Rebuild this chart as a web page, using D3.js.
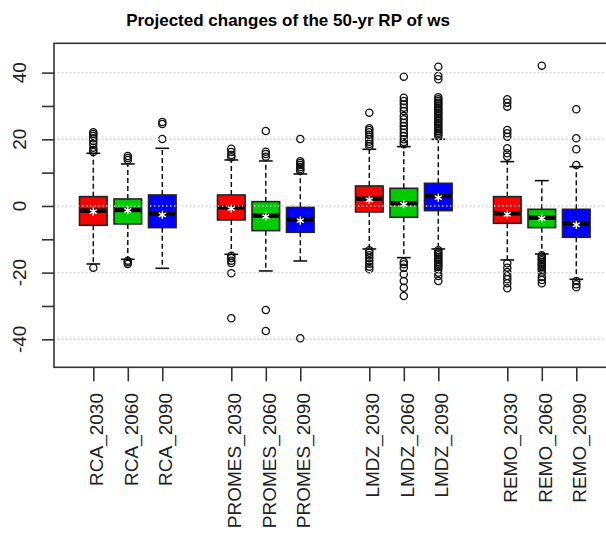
<!DOCTYPE html>
<html>
<head>
<meta charset="utf-8">
<script src="https://cdn.jsdelivr.net/npm/d3@7"></script>
<style>
    body { margin: 0; background: #fff; }
    svg { display: block; font-family: "Liberation Sans", Arial, sans-serif; }
</style>
</head>
<body>
<div id="app"></div>
<script>
// ----- Data -----

const models = ["RCA", "PROMES", "LMDZ", "REMO"];
const years = ["2030", "2060", "2090"];
const boxColors = ["#ff0000", "#00cd00", "#0000ff"];

// one value per box, order: RCA 2030/2060/2090, PROMES ..., LMDZ ..., REMO ...
const lowWhisker = [-17.4, -16.0, -18.7, -14.5, -19.5, -16.5, -12.9, -15.5, -12.9, -16.2, -14.4, -22.0];
const q1 = [-5.8, -5.4, -6.5, -4.2, -7.4, -7.9, -1.8, -3.4, -1.4, -5.2, -6.5, -9.4];
const medians = [-1.4, -1.2, -2.2, -0.4, -2.9, -4.0, 2.2, 0.8, 3.0, -2.2, -3.5, -5.2];
const q3 = [2.8, 2.1, 3.3, 3.3, 1.3, -0.4, 6.0, 5.3, 6.8, 2.8, -1.0, -1.0];
const highWhisker = [15.8, 12.6, 17.3, 13.8, 13.5, 9.6, 17.0, 17.8, 20.0, 13.3, 7.6, 11.8];
const means = [-1.7, -1.3, -2.7, -0.8, -3.2, -4.4, 1.8, 0.5, 2.5, -2.5, -3.7, -5.7];

const outliers = [
    [16.2, 16.8, 17.5, 18.6, 19.5, 20.3, 21.0, 21.6, 22.1, -18.5],
    [13.8, 14.4, 15.0, -16.4, -16.9, -17.4],
    [20.1, 24.6, 25.2],
    [14.6, 15.3, 16.2, 17.2, -14.9, -15.6, -16.4, -17.1, -20.2, -33.7],
    [14.8, 15.6, 16.3, 22.5, -31.2, -37.5],
    [10.5, 11.1, 11.7, 12.3, 12.9, 13.4, 20.1, -39.7],
    [17.9, 18.6, 19.3, 20.0, 20.7, 21.4, 22.1, 22.8, 23.3, 28.0,
     -13.3, -14.0, -14.8, -15.6, -16.5, -17.3, -18.2, -19.0],
    [18.5, 19.2, 20.0, 21.0, 22.0, 23.0, 24.0, 25.0, 26.0, 27.0, 28.5, 29.5, 30.5, 31.5, 32.5, 38.8,
     -16.8, -17.5, -18.5, -20.5, -22.5, -24.5, -27.0],
    [21.0, 21.5, 22.0, 22.5, 23.0, 23.5, 24.0, 24.5, 25.0, 25.5, 26.0, 26.5, 27.0, 27.5,
     28.0, 28.5, 29.0, 29.5, 30.0, 30.5, 31.0, 31.5, 32.0, 32.6, 38.0, 39.0, 41.8,
     -13.3, -13.8, -14.3, -14.8, -15.3, -15.8, -16.3, -16.8, -17.3, -17.8, -18.3, -19.0, -20.0, -21.0, -22.5],
    [14.8, 15.8, 17.3, 20.8, 21.8, 22.8, 29.8, 31.0, 32.0, -17.2, -18.5, -19.8, -21.0, -22.0, -23.2, -24.7],
    [42.1, -14.8, -15.3, -15.8, -16.3, -16.8, -17.3, -17.8, -18.3, -18.8, -19.3, -20.0, -21.3, -22.2, -23.2],
    [12.3, 17.0, 20.3, 29.0, -22.5, -23.5, -24.4]
];

const yTicks = [-40, -30, -20, -10, 0, 10, 20, 30, 40];
const yLabels = [-40, -20, 0, 20, 40];
const gridValues = [-40, -20, 0, 20, 40];
const title = "Projected changes of the 50-yr RP of ws";

// ----- Layout -----

const Width = 606, Height = 535;
const PlotLeft = 54, PlotTop = 43.3, PlotBottom = 367.3, PlotRight = 620;

// ----- Main program -----

function main() {

    // build box records
    const boxes = [];
    models.forEach((m, mi) => {
        years.forEach((yr, yi) => {
            const i = mi * years.length + yi;
            boxes.push({
                label: m + "_" + yr,
                slot: mi * (years.length + 1) + yi,
                color: boxColors[yi],
                lo: lowWhisker[i], q1: q1[i], med: medians[i], q3: q3[i], hi: highWhisker[i],
                mean: means[i],
                out: outliers[i]
            });
        });
    });

    const svg = d3.select("#app").append("svg")
        .attr("width", Width)
        .attr("height", Height);

    // scales
    const xScale = d3.scaleLinear()
        .domain([0, 14])
        .range([93.3, 576.3]);
    const slotWidth = xScale(1) - xScale(0);
    const boxW = slotWidth * 0.8;
    const stapleW = boxW * 0.5;

    const yScale = d3.scaleLinear()
        .domain([-48.4, 48.8])
        .range([PlotBottom, PlotTop]);

    // title
    svg.append("text")
        .attr("x", 288)
        .attr("y", 25.5)
        .attr("text-anchor", "middle")
        .attr("font-size", 17)
        .attr("font-weight", "bold")
        .text(title);

    const g = svg.selectAll("g.box")
        .data(boxes)
        .enter()
        .append("g")
            .attr("class", "box")
            .attr("transform", d => `translate(${xScale(d.slot)},0)`);

    // whiskers (dashed)
    g.append("line")
        .attr("y1", d => yScale(d.q3)).attr("y2", d => yScale(d.hi))
        .attr("stroke", "#111").attr("stroke-width", 1.5).attr("stroke-dasharray", "5,3");
    g.append("line")
        .attr("y1", d => yScale(d.q1)).attr("y2", d => yScale(d.lo))
        .attr("stroke", "#111").attr("stroke-width", 1.5).attr("stroke-dasharray", "5,3");

    // staples
    g.append("line")
        .attr("x1", -stapleW / 2).attr("x2", stapleW / 2)
        .attr("y1", d => yScale(d.hi)).attr("y2", d => yScale(d.hi))
        .attr("stroke", "#111").attr("stroke-width", 1.6);
    g.append("line")
        .attr("x1", -stapleW / 2).attr("x2", stapleW / 2)
        .attr("y1", d => yScale(d.lo)).attr("y2", d => yScale(d.lo))
        .attr("stroke", "#111").attr("stroke-width", 1.6);

    // boxes
    g.append("rect")
        .attr("x", -boxW / 2)
        .attr("width", boxW)
        .attr("y", d => yScale(d.q3))
        .attr("height", d => yScale(d.q1) - yScale(d.q3))
        .attr("fill", d => d.color)
        .attr("stroke", "#222")
        .attr("stroke-width", 1.6);

    // outliers
    g.selectAll("circle")
        .data(d => d.out)
        .enter()
        .append("circle")
            .attr("cy", v => yScale(v))
            .attr("r", 3.6)
            .attr("fill", "none")
            .attr("stroke", "#111")
            .attr("stroke-width", 1.3);

    // grid lines (drawn over the boxes)
    svg.selectAll("line.grid")
        .data(gridValues)
        .enter()
        .append("line")
            .attr("class", "grid")
            .attr("x1", PlotLeft).attr("x2", PlotRight)
            .attr("y1", v => yScale(v)).attr("y2", v => yScale(v))
            .attr("stroke", "#cfcfcf")
            .attr("stroke-width", 1.4)
            .attr("stroke-dasharray", "1.4,2.6");

    // medians
    g.append("line")
        .attr("x1", -boxW / 2 + 0.8).attr("x2", boxW / 2 - 0.8)
        .attr("y1", d => yScale(d.med)).attr("y2", d => yScale(d.med))
        .attr("stroke", "#000").attr("stroke-width", 4.5);

    // means
    g.append("path")
        .attr("transform", d => `translate(0,${yScale(d.mean)})`)
        .attr("d", d3.symbol(d3.symbolAsterisk, 45))
        .attr("fill", "none")
        .attr("stroke", "#fff")
        .attr("stroke-width", 1.4);

    // frame
    svg.append("rect")
        .attr("x", PlotLeft).attr("y", PlotTop)
        .attr("width", PlotRight - PlotLeft)
        .attr("height", PlotBottom - PlotTop)
        .attr("fill", "none")
        .attr("stroke", "#333")
        .attr("stroke-width", 1.6);

    // y axis
    const axisLeft = d3.axisLeft(yScale)
        .tickValues(yTicks)
        .tickSize(12)
        .tickFormat("");
    const yAxis = svg.append("g")
        .attr("transform", `translate(${PlotLeft},0)`)
        .call(axisLeft);
    yAxis.select(".domain").remove();
    yAxis.selectAll(".tick line").attr("stroke", "#333").attr("stroke-width", 1.6);

    svg.selectAll("text.ylab")
        .data(yLabels)
        .enter()
        .append("text")
            .attr("class", "ylab")
            .attr("transform", v => `translate(25.5,${yScale(v)}) rotate(-90)`)
            .attr("text-anchor", "middle")
            .attr("font-size", 19)
            .attr("fill", "#222")
            .text(v => v);

    // x axis
    const axisBottom = d3.axisBottom(xScale)
        .tickValues(boxes.map(d => d.slot))
        .tickSize(14)
        .tickFormat("");
    const xAxis = svg.append("g")
        .attr("transform", `translate(0,${PlotBottom})`)
        .call(axisBottom);
    xAxis.select(".domain").remove();
    xAxis.selectAll(".tick line").attr("stroke", "#333").attr("stroke-width", 1.6);

    svg.selectAll("text.xlab")
        .data(boxes)
        .enter()
        .append("text")
            .attr("class", "xlab")
            .attr("transform", d => `translate(${xScale(d.slot) + 10},393) rotate(-90)`)
            .attr("text-anchor", "end")
            .attr("font-size", 19)
            .attr("fill", "#222")
            .text(d => d.label);
}

main();
</script>
</body>
</html>
